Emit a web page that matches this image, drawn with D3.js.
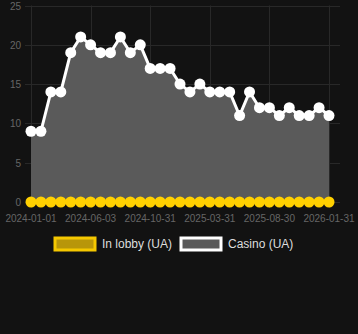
<!DOCTYPE html>
<meta charset="utf-8">
<script src="https://cdn.jsdelivr.net/npm/d3@7/dist/d3.min.js"></script>
<style>
body { margin: 0; background: #121212; }
svg { display: block; font-family: "Liberation Sans", Arial, sans-serif; }
.grid line { stroke: #282828; stroke-width: 1; }
.tick-label { fill: #666; font-size: 10px; }
.legend text { fill: #ddd; font-size: 12px; }
</style>
<body>
<script>

let width = 358,
    height = 334;

let dates = ['2024-01-01', '2024-01-26', '2024-02-20', '2024-03-16', '2024-04-10', '2024-05-08',
             '2024-06-03', '2024-06-28', '2024-07-23', '2024-08-17', '2024-09-11', '2024-10-06',
             '2024-10-31', '2024-11-25', '2024-12-20', '2025-01-14', '2025-02-08', '2025-03-05',
             '2025-03-31', '2025-04-25', '2025-05-20', '2025-06-14', '2025-07-09', '2025-08-04',
             '2025-08-30', '2025-09-24', '2025-10-19', '2025-11-13', '2025-12-08', '2026-01-05',
             '2026-01-31'];
let casino = [9, 9, 14, 14, 19, 21, 20, 19, 19, 21, 19, 20, 17, 17, 17, 15, 14, 15, 14, 14, 14,
              11, 14, 12, 12, 11, 12, 11, 11, 12, 11];
let lobby = [0, 0, 0, 0, 0, 0, 0, 0, 0, 0, 0, 0, 0, 0, 0, 0, 0, 0, 0, 0, 0,
             0, 0, 0, 0, 0, 0, 0, 0, 0, 0];
let shownDates = ['2024-01-01', '2024-06-03', '2024-10-31', '2025-03-31', '2025-08-30', '2026-01-31'];
let yTicks = [0, 5, 10, 15, 20, 25];
let seriesNames = ['In lobby (UA)', 'Casino (UA)'];

let x = d3.scalePoint().domain(dates).range([31, 329]);
let y = d3.scaleLinear().domain([0, 25]).range([202, 5.5]);

let svg = d3.select("body").append("svg")
    .attr("width", width)
    .attr("height", height);

// grid
let grid = svg.append("g").attr("class", "grid");
grid.selectAll(".hy").data(yTicks).enter().append("line")
    .attr("x1", 25).attr("x2", 340)
    .attr("y1", d => Math.round(y(d)) + 0.5)
    .attr("y2", d => Math.round(y(d)) + 0.5);
grid.selectAll(".vx").data(shownDates).enter().append("line")
    .attr("x1", d => Math.round(x(d)) + 0.5)
    .attr("x2", d => Math.round(x(d)) + 0.5)
    .attr("y1", y(25)).attr("y2", 208);

// axis labels
svg.selectAll(".ylab").data(yTicks).enter().append("text")
    .attr("class", "tick-label")
    .attr("x", 21)
    .attr("y", d => y(d) + 4)
    .attr("text-anchor", "end")
    .text(d => d);

svg.selectAll(".xlab").data(shownDates).enter().append("text")
    .attr("class", "tick-label")
    .attr("x", d => x(d))
    .attr("y", 222)
    .attr("text-anchor", "middle")
    .text(d => d);

// casino area + line
let area = d3.area()
    .x((d, i) => x(dates[i]))
    .y0(y(0))
    .y1(d => y(d));
let line = d3.line()
    .x((d, i) => x(dates[i]))
    .y(d => y(d));

svg.append("path")
    .datum(casino)
    .attr("d", area)
    .attr("fill", "#5a5a5a");

svg.append("path")
    .datum(casino)
    .attr("d", line)
    .attr("fill", "none")
    .attr("stroke", "#fff")
    .attr("stroke-width", 3);

svg.selectAll(".cpt").data(casino).enter().append("circle")
    .attr("cx", (d, i) => x(dates[i]))
    .attr("cy", d => y(d))
    .attr("r", 5.5)
    .attr("fill", "#fff");

// lobby line + points
svg.append("path")
    .datum(lobby)
    .attr("d", line)
    .attr("fill", "none")
    .attr("stroke", "#ffd000")
    .attr("stroke-width", 3);

svg.selectAll(".lpt").data(lobby).enter().append("circle")
    .attr("cx", (d, i) => x(dates[i]))
    .attr("cy", d => y(d))
    .attr("r", 5.5)
    .attr("fill", "#ffd000");

// legend
let legend = svg.append("g").attr("class", "legend");
let items = [
  {name: seriesNames[0], x: 55, fill: "#b8960a", stroke: "#f5c800", tx: 102},
  {name: seriesNames[1], x: 181, fill: "#5a5a5a", stroke: "#fff", tx: 228}
];
items.forEach(function(it) {
  legend.append("rect")
      .attr("x", it.x).attr("y", 238)
      .attr("width", 40).attr("height", 12)
      .attr("fill", it.fill)
      .attr("stroke", it.stroke)
      .attr("stroke-width", 3);
  legend.append("text")
      .attr("x", it.tx).attr("y", 248)
      .text(it.name);
});

</script>
